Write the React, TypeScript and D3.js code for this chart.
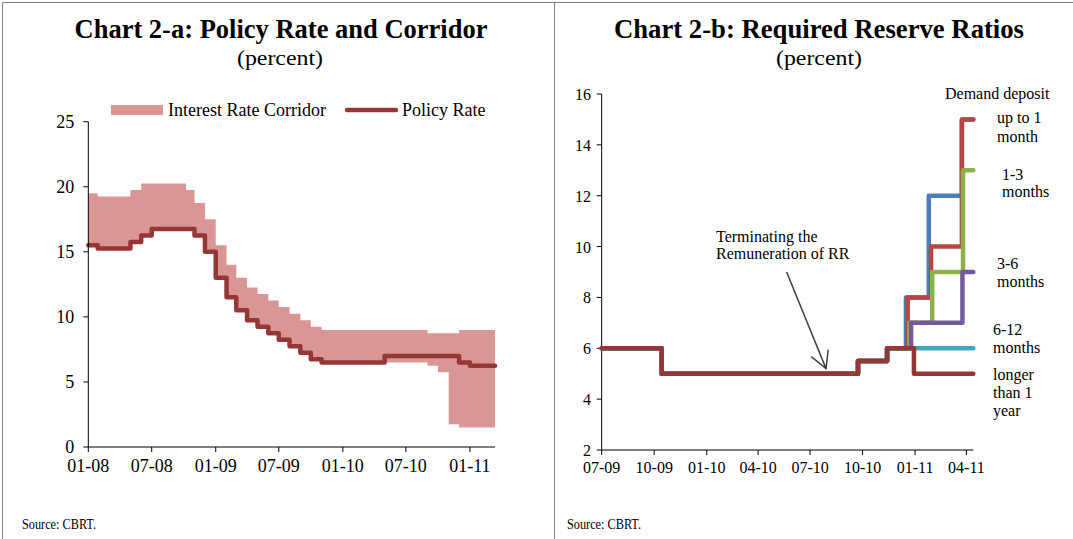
import React from "react";
import * as d3 from "d3";

// ---------- Chart 2-a data ----------
const policyDates = [
  "2008-01-01", "2008-01-28", "2008-05-01", "2008-06-01", "2008-07-01", "2008-11-01", "2008-12-01",
  "2009-01-01", "2009-02-01", "2009-03-01", "2009-04-01", "2009-05-01", "2009-06-01", "2009-07-01",
  "2009-08-01", "2009-09-01", "2009-10-01", "2009-11-01", "2010-05-01", "2010-12-01", "2011-01-01",
  "2011-03-14",
];
const policyValues = [
  15.5, 15.25, 15.75, 16.25, 16.75, 16.25, 15.0,
  13.0, 11.5, 10.5, 9.75, 9.25, 8.75, 8.25,
  7.75, 7.25, 6.75, 6.5, 7.0, 6.5, 6.25,
  6.25,
];
const corridorDates = [
  "2008-01-01", "2008-01-28", "2008-05-01", "2008-06-01", "2008-07-01", "2008-10-08", "2008-11-01",
  "2008-12-01", "2009-01-01", "2009-02-01", "2009-03-01", "2009-04-01", "2009-05-01", "2009-06-01",
  "2009-07-01", "2009-08-01", "2009-09-01", "2009-10-01", "2009-11-01", "2010-09-01", "2010-10-01",
  "2010-11-01", "2010-12-01", "2011-03-14",
];
const corridorLower = [
  15.5, 15.25, 15.75, 16.25, 16.75, 16.75, 16.25,
  15.0, 13.0, 11.5, 10.5, 9.75, 9.25, 8.75,
  8.25, 7.75, 7.25, 6.75, 6.5, 6.25, 5.75,
  1.75, 1.5, 1.5,
];
const corridorUpper = [
  19.5, 19.25, 19.75, 20.25, 20.25, 19.75, 18.75,
  17.5, 15.5, 14.0, 13.0, 12.25, 11.75, 11.25,
  10.75, 10.25, 9.75, 9.25, 9.0, 8.75, 8.75,
  8.75, 9.0, 9.0,
];
const leftYTicks = [0, 5, 10, 15, 20, 25];
const leftXTicks = ["2008-01-01", "2008-07-01", "2009-01-01", "2009-07-01", "2010-01-01", "2010-07-01", "2011-01-01"];

// ---------- Chart 2-b data ----------
const demandDates = ["2009-07-01", "2009-10-14", "2010-09-23", "2010-11-13", "2010-12-16", "2011-01-25", "2011-03-24", "2011-04-13"];
const demandValues = [6, 5, 5.5, 6, 8, 12, 15, 15];
const upTo1mDates = ["2009-07-01", "2009-10-14", "2010-09-23", "2010-11-13", "2010-12-19", "2011-01-29", "2011-03-24", "2011-04-13"];
const upTo1mValues = [6, 5, 5.5, 6, 8, 10, 15, 15];
const m1to3Dates = ["2009-07-01", "2009-10-14", "2010-09-23", "2010-11-13", "2010-12-22", "2011-01-31", "2011-03-26", "2011-04-13"];
const m1to3Values = [6, 5, 5.5, 6, 7, 9, 13, 13];
const m3to6Dates = ["2009-07-01", "2009-10-14", "2010-09-23", "2010-11-13", "2010-12-25", "2011-03-25", "2011-04-13"];
const m3to6Values = [6, 5, 5.5, 6, 7, 9, 9];
const m6to12Dates = ["2009-07-01", "2009-10-14", "2010-09-23", "2010-11-13", "2011-04-13"];
const m6to12Values = [6, 5, 5.5, 6, 6];
const longerDates = ["2009-07-01", "2009-10-14", "2010-09-23", "2010-11-13", "2010-12-30", "2011-04-13"];
const longerValues = [6, 5, 5.5, 6, 5, 5];
const rightYTicks = [2, 4, 6, 8, 10, 12, 14, 16];
const rightXTicks = ["2009-07-01", "2009-10-01", "2010-01-01", "2010-04-01", "2010-07-01", "2010-10-01", "2011-01-01", "2011-04-01"];

const parse = d3.timeParse("%Y-%m-%d");
const fmt = d3.timeFormat("%m-%y");
const FONT = "'Liberation Serif', 'Times New Roman', serif";

type Pt = { d: Date; v: number };
const zip = (ds: string[], vs: number[]): Pt[] => ds.map((s, i) => ({ d: parse(s) as Date, v: vs[i] }));

export default function App() {
  // Left scales
  const xL = d3.scaleTime().domain([parse("2008-01-01") as Date, parse("2011-03-14") as Date]).range([88.3, 495]);
  const yL = d3.scaleLinear().domain([0, 25]).range([447, 121.7]);
  const corridor = corridorDates.map((s, i) => ({ d: parse(s) as Date, lo: corridorLower[i], hi: corridorUpper[i] }));
  const areaGen = d3
    .area<{ d: Date; lo: number; hi: number }>()
    .curve(d3.curveStepAfter)
    .x((p) => xL(p.d))
    .y0((p) => yL(p.lo))
    .y1((p) => yL(p.hi));
  const lineL = d3
    .line<Pt>()
    .curve(d3.curveStepAfter)
    .x((p) => xL(p.d))
    .y((p) => yL(p.v));

  // Right scales
  const xR = d3.scaleTime().domain([parse("2009-07-01") as Date, parse("2011-04-13") as Date]).range([601.7, 973.3]);
  const yR = d3.scaleLinear().domain([2, 16]).range([450, 94]);
  const lineR = d3
    .line<Pt>()
    .curve(d3.curveStepAfter)
    .x((p) => xR(p.d))
    .y((p) => yR(p.v));

  const rightSeries = [
    { pts: zip(demandDates, demandValues), color: "#4A7EBB" },
    { pts: zip(upTo1mDates, upTo1mValues), color: "#B94542" },
    { pts: zip(m1to3Dates, m1to3Values), color: "#8EB04B" },
    { pts: zip(m3to6Dates, m3to6Values), color: "#745A9B" },
    { pts: zip(m6to12Dates, m6to12Values), color: "#45A5C0" },
    { pts: zip(longerDates, longerValues), color: "#953735" },
  ];

  // arrow annotation (data-space anchor)
  const tail = { x: xR(parse("2010-05-21") as Date), y: yR(9.0) };
  const tip = { x: xR(parse("2010-07-29") as Date), y: yR(5.2) };
  const ang = Math.atan2(tail.y - tip.y, tail.x - tip.x);
  const hl = 19;
  const a1 = { x: tip.x + hl * Math.cos(ang - 0.5), y: tip.y + hl * Math.sin(ang - 0.5) };
  const a2 = { x: tip.x + hl * Math.cos(ang + 0.5), y: tip.y + hl * Math.sin(ang + 0.5) };

  const border = "#808080";

  return (
    <div style={{ position: "absolute", left: 0, top: 0 }}>
      <svg width={1073} height={539} style={{ display: "block", background: "#fff" }} fontFamily={FONT}>
        {/* panel borders */}
        <line x1={2.5} y1={2.5} x2={1073} y2={2.5} stroke={border} strokeWidth={1} />
        <line x1={2.5} y1={2.5} x2={2.5} y2={539} stroke={border} strokeWidth={1} />
        <line x1={554.5} y1={2.5} x2={554.5} y2={539} stroke={border} strokeWidth={1} />

        {/* ---------- Left chart ---------- */}
        <text x={281} y={38} textAnchor="middle" fontSize={28} fontWeight="bold" textLength={413} lengthAdjust="spacingAndGlyphs">
          Chart 2-a: Policy Rate and Corridor
        </text>
        <text x={280} y={65} textAnchor="middle" fontSize={22} textLength={86} lengthAdjust="spacingAndGlyphs">
          (percent)
        </text>

        <path d={areaGen(corridor) || ""} fill="#D99694" />
        <path
          d={lineL(zip(policyDates, policyValues)) || ""}
          fill="none"
          stroke="#953735"
          strokeWidth={4.5}
          strokeLinejoin="round"
          strokeLinecap="round"
        />

        {/* axes */}
        <line x1={xL.range()[0]} y1={yL(25)} x2={xL.range()[0]} y2={yL(0)} stroke="#000" />
        <line x1={xL.range()[0]} y1={yL(0)} x2={xL.range()[1]} y2={yL(0)} stroke="#000" />
        {leftYTicks.map((t) => (
          <g key={"ly" + t}>
            <line x1={xL.range()[0] - 5} x2={xL.range()[0]} y1={yL(t)} y2={yL(t)} stroke="#000" />
            <text x={xL.range()[0] - 14} y={yL(t) + 6} textAnchor="end" fontSize={18}>
              {t}
            </text>
          </g>
        ))}
        {leftXTicks.map((s) => {
          const x = xL(parse(s) as Date);
          return (
            <g key={"lx" + s}>
              <line x1={x} x2={x} y1={yL(0)} y2={yL(0) + 5} stroke="#000" />
              <text x={x} y={472} textAnchor="middle" fontSize={18}>
                {fmt(parse(s) as Date)}
              </text>
            </g>
          );
        })}

        {/* legend */}
        <rect x={111} y={105} width={52} height={10} fill="#D99694" />
        <text x={168} y={116} fontSize={18}>
          Interest Rate Corridor
        </text>
        <line x1={347} y1={110} x2={396} y2={110} stroke="#953735" strokeWidth={4.5} strokeLinecap="round" />
        <text x={402} y={116} fontSize={18}>
          Policy Rate
        </text>

        <text x={22} y={529} fontSize={14} textLength={74} lengthAdjust="spacingAndGlyphs">
          Source: CBRT.
        </text>

        {/* ---------- Right chart ---------- */}
        <text x={819} y={38} textAnchor="middle" fontSize={28} fontWeight="bold" textLength={410} lengthAdjust="spacingAndGlyphs">
          Chart 2-b: Required Reserve Ratios
        </text>
        <text x={819} y={65} textAnchor="middle" fontSize={22} textLength={86} lengthAdjust="spacingAndGlyphs">
          (percent)
        </text>

        <line x1={xR.range()[0]} y1={yR(16)} x2={xR.range()[0]} y2={yR(2)} stroke="#000" />
        <line x1={xR.range()[0]} y1={yR(2)} x2={xR.range()[1]} y2={yR(2)} stroke="#000" />
        {rightYTicks.map((t) => (
          <g key={"ry" + t}>
            <line x1={xR.range()[0] - 5} x2={xR.range()[0]} y1={yR(t)} y2={yR(t)} stroke="#000" />
            <text x={591} y={yR(t) + 6} textAnchor="end" fontSize={16}>
              {t}
            </text>
          </g>
        ))}
        {rightXTicks.map((s) => {
          const x = xR(parse(s) as Date);
          return (
            <g key={"rx" + s}>
              <line x1={x} x2={x} y1={yR(2)} y2={yR(2) + 5} stroke="#000" />
              <text x={x} y={473} textAnchor="middle" fontSize={16}>
                {fmt(parse(s) as Date)}
              </text>
            </g>
          );
        })}

        {rightSeries.map((s, i) => (
          <path
            key={"rs" + i}
            d={lineR(s.pts) || ""}
            fill="none"
            stroke={s.color}
            strokeWidth={4.5}
            strokeLinejoin="round"
            strokeLinecap="round"
          />
        ))}

        {/* arrow annotation */}
        <g stroke="#404040" strokeWidth={1.5} fill="none">
          <line x1={tail.x} y1={tail.y} x2={tip.x} y2={tip.y} />
          <polyline points={`${a1.x},${a1.y} ${tip.x},${tip.y} ${a2.x},${a2.y}`} />
        </g>
        <text x={716} y={242} fontSize={16}>
          Terminating the
        </text>
        <text x={716} y={259} fontSize={16}>
          Remuneration of RR
        </text>

        {/* series labels */}
        <text x={945} y={99} fontSize={16}>Demand deposit</text>
        <text x={997} y={123} fontSize={16}>up to 1</text>
        <text x={997} y={142} fontSize={16}>month</text>
        <text x={1002} y={180} fontSize={16}>1-3</text>
        <text x={1002} y={197} fontSize={16}>months</text>
        <text x={997} y={269} fontSize={16}>3-6</text>
        <text x={997} y={287} fontSize={16}>months</text>
        <text x={993} y={335} fontSize={16}>6-12</text>
        <text x={993} y={353} fontSize={16}>months</text>
        <text x={993} y={380} fontSize={16}>longer</text>
        <text x={993} y={398} fontSize={16}>than 1</text>
        <text x={993} y={416} fontSize={16}>year</text>

        <text x={567} y={529} fontSize={14} textLength={74} lengthAdjust="spacingAndGlyphs">
          Source: CBRT.
        </text>
      </svg>
    </div>
  );
}
